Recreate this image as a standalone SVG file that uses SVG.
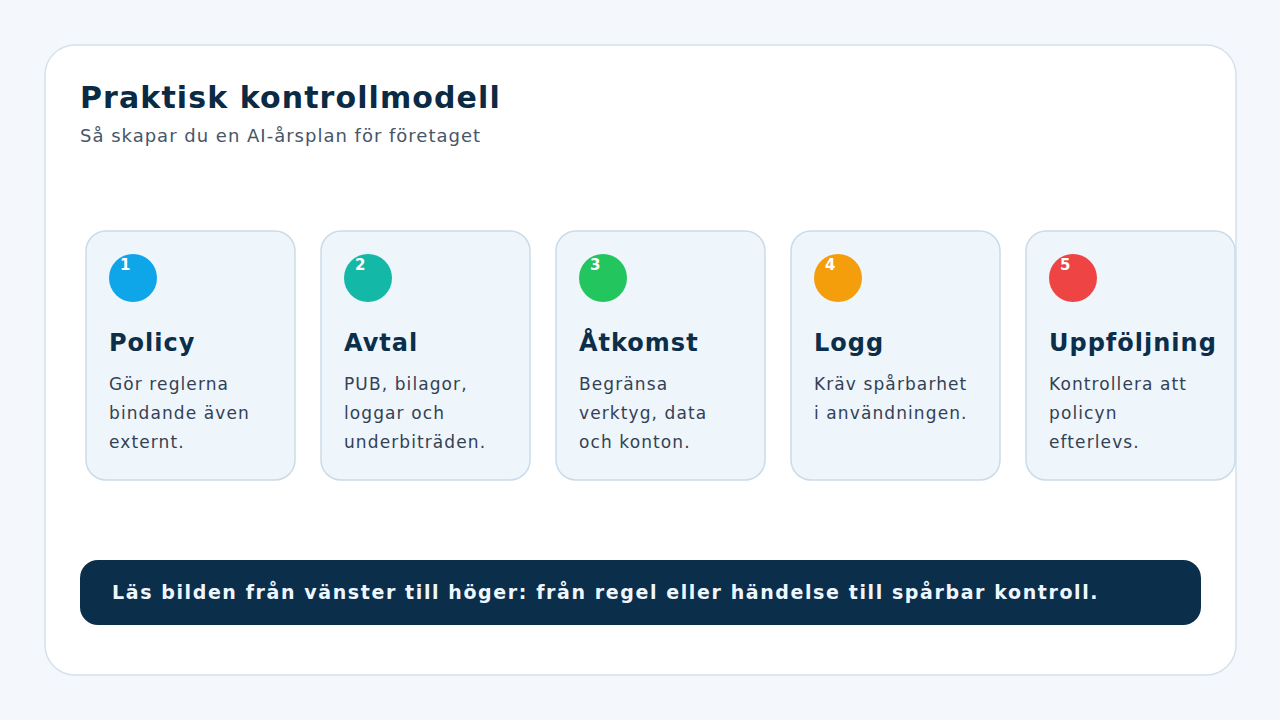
<svg xmlns="http://www.w3.org/2000/svg" width="1280" height="720" viewBox="0 0 1280 720">
<style>
.t{font-family:"DejaVu Sans",sans-serif}
.card{fill:#eef5fb;stroke:#cbdbe8;stroke-width:1.5}
.num{font-family:"DejaVu Sans",sans-serif;font-weight:bold;font-size:15px;fill:#ffffff}
.ct{font-family:"DejaVu Sans",sans-serif;font-weight:bold;font-size:24px;fill:#0b2e4a;letter-spacing:1px}
.cd{font-family:"DejaVu Sans",sans-serif;font-size:17px;fill:#334155;letter-spacing:1.1px}
</style>
<rect width="1280" height="720" fill="#f4f8fc"/>
<rect x="45" y="45" width="1191" height="630" rx="30" fill="#ffffff" stroke="#d5e1ec" stroke-width="1.5"/>
<text class="t" x="80" y="108" font-size="30" font-weight="bold" fill="#0b2a44" letter-spacing="1.1">Praktisk kontrollmodell</text>
<text class="t" x="80" y="142" font-size="18" fill="#475569" letter-spacing="1">Så skapar du en AI-årsplan för företaget</text>
<g id="n1">
<rect class="card" x="86" y="231" width="209" height="249" rx="20"/>
<circle cx="133" cy="278" r="24" fill="#0ea5e9"/>
<text class="num" x="120" y="270">1</text>
<text class="ct" x="109" y="351">Policy</text>
<text class="cd" x="109" y="390">Gör reglerna</text>
<text class="cd" x="109" y="419">bindande även</text>
<text class="cd" x="109" y="448">externt.</text>
</g>
<g id="n2">
<rect class="card" x="321" y="231" width="209" height="249" rx="20"/>
<circle cx="368" cy="278" r="24" fill="#14b8a6"/>
<text class="num" x="355" y="270">2</text>
<text class="ct" x="344" y="351">Avtal</text>
<text class="cd" x="344" y="390">PUB, bilagor,</text>
<text class="cd" x="344" y="419">loggar och</text>
<text class="cd" x="344" y="448">underbiträden.</text>
</g>
<g id="n3">
<rect class="card" x="556" y="231" width="209" height="249" rx="20"/>
<circle cx="603" cy="278" r="24" fill="#22c55e"/>
<text class="num" x="590" y="270">3</text>
<text class="ct" x="579" y="351">Åtkomst</text>
<text class="cd" x="579" y="390">Begränsa</text>
<text class="cd" x="579" y="419">verktyg, data</text>
<text class="cd" x="579" y="448">och konton.</text>
</g>
<g id="n4">
<rect class="card" x="791" y="231" width="209" height="249" rx="20"/>
<circle cx="838" cy="278" r="24" fill="#f59e0b"/>
<text class="num" x="825" y="270">4</text>
<text class="ct" x="814" y="351">Logg</text>
<text class="cd" x="814" y="390">Kräv spårbarhet</text>
<text class="cd" x="814" y="419">i användningen.</text>
</g>
<g id="n5">
<rect class="card" x="1026" y="231" width="209" height="249" rx="20"/>
<circle cx="1073" cy="278" r="24" fill="#ef4444"/>
<text class="num" x="1060" y="270">5</text>
<text class="ct" x="1049" y="351">Uppföljning</text>
<text class="cd" x="1049" y="390">Kontrollera att</text>
<text class="cd" x="1049" y="419">policyn</text>
<text class="cd" x="1049" y="448">efterlevs.</text>
</g>
<g id="connectors"></g>
<g id="footer">
<rect x="80" y="560" width="1121" height="65" rx="18" fill="#0b2e4a"/>
<text class="t" x="112" y="599" font-size="19" font-weight="bold" fill="#eef7ff" letter-spacing="1.6">Läs bilden från vänster till höger: från regel eller händelse till spårbar kontroll.</text>
</g>
</svg>
